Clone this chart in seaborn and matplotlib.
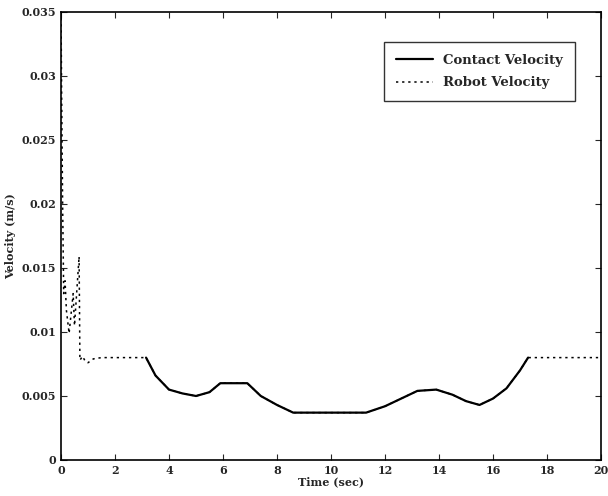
import numpy as np
import seaborn as sns
import matplotlib.pyplot as plt

# contact velocity (solid) - only drawn while the contact curve departs from the robot
contact_t = [3.15, 3.5, 4.0, 4.5, 5.0, 5.5, 5.9, 6.9, 7.4, 8.0, 8.6,
             11.3, 12.0, 12.7, 13.2, 13.9, 14.5, 15.0, 15.5, 16.0, 16.5, 17.0, 17.3]
contact_v = [0.008, 0.0066, 0.0055, 0.0052, 0.0050, 0.0053, 0.0060, 0.0060,
             0.0050, 0.0043, 0.0037, 0.0037, 0.0042, 0.0049, 0.0054, 0.0055, 0.0051,
             0.0046, 0.0043, 0.0048, 0.0056, 0.0070, 0.0080]

# robot velocity (dotted) - initial transient, then follows contact
robot_t = [0, 0.03, 0.06, 0.1, 0.15, 0.2, 0.3, 0.45, 0.5, 0.67, 0.7, 0.8, 0.9, 1.0,
           1.2, 1.5, 3.15, 3.5, 4.0, 4.5, 5.0, 5.5, 5.9, 6.9, 7.4, 8.0, 8.6,
           11.3, 12.0, 12.7, 13.2, 13.9, 14.5, 15.0, 15.5, 16.0, 16.5, 17.0, 17.3, 20]
robot_v = [0.035, 0.027, 0.02, 0.013, 0.014, 0.0117, 0.0099, 0.013, 0.0105, 0.0159,
           0.0078, 0.0081, 0.0077, 0.0076, 0.0079, 0.008, 0.008, 0.0066, 0.0055, 0.0052,
           0.0050, 0.0053, 0.0060, 0.0060, 0.0050, 0.0043, 0.0037, 0.0037, 0.0042,
           0.0049, 0.0054, 0.0055, 0.0051, 0.0046, 0.0043, 0.0048, 0.0056, 0.0070,
           0.0080, 0.0080]

sns.set_style("ticks", {"xtick.direction": "in", "ytick.direction": "in"})
plt.rcParams["font.family"] = ["DejaVu Serif"]
plt.rcParams["font.weight"] = "bold"

fig = plt.figure(figsize=(6.08, 4.96), dpi=100)
ax = fig.add_axes([61 / 608, 36 / 496, 540 / 608, 448 / 496])

sns.lineplot(x=contact_t, y=contact_v, estimator=None, sort=False, ax=ax,
             color="black", linewidth=1.6, label="Contact Velocity")
sns.lineplot(x=robot_t, y=robot_v, estimator=None, sort=False, ax=ax,
             color="black", linewidth=1.1, linestyle=(0, (1.5, 2.5)), label="Robot Velocity")

ax.set_xlim(0, 20)
ax.set_ylim(0, 0.035)
ax.set_xticks(np.arange(0, 21, 2))
ax.set_yticks(np.arange(0, 0.0351, 0.005))
ax.set_yticklabels(["0", "0.005", "0.01", "0.015", "0.02", "0.025", "0.03", "0.035"])
ax.tick_params(top=True, right=True, labelsize=8, length=4)
for lab in ax.get_xticklabels() + ax.get_yticklabels():
    lab.set_fontweight("bold")
for s in ax.spines.values():
    s.set_color("black")
    s.set_linewidth(1.2)

ax.set_xlabel("Time (sec)", fontsize=8, fontweight="bold", labelpad=0)
ax.set_ylabel("Velocity (m/s)", fontsize=8, fontweight="bold")

leg = ax.legend(loc="upper right", bbox_to_anchor=(0.952, 0.933), fontsize=9.5,
                frameon=True, fancybox=False, edgecolor="black", handlelength=2.8,
                borderpad=0.9, labelspacing=0.7, borderaxespad=0)
leg.get_frame().set_linewidth(1.0)
for t in leg.get_texts():
    t.set_fontweight("bold")

fig.savefig("out.png", dpi=100)
